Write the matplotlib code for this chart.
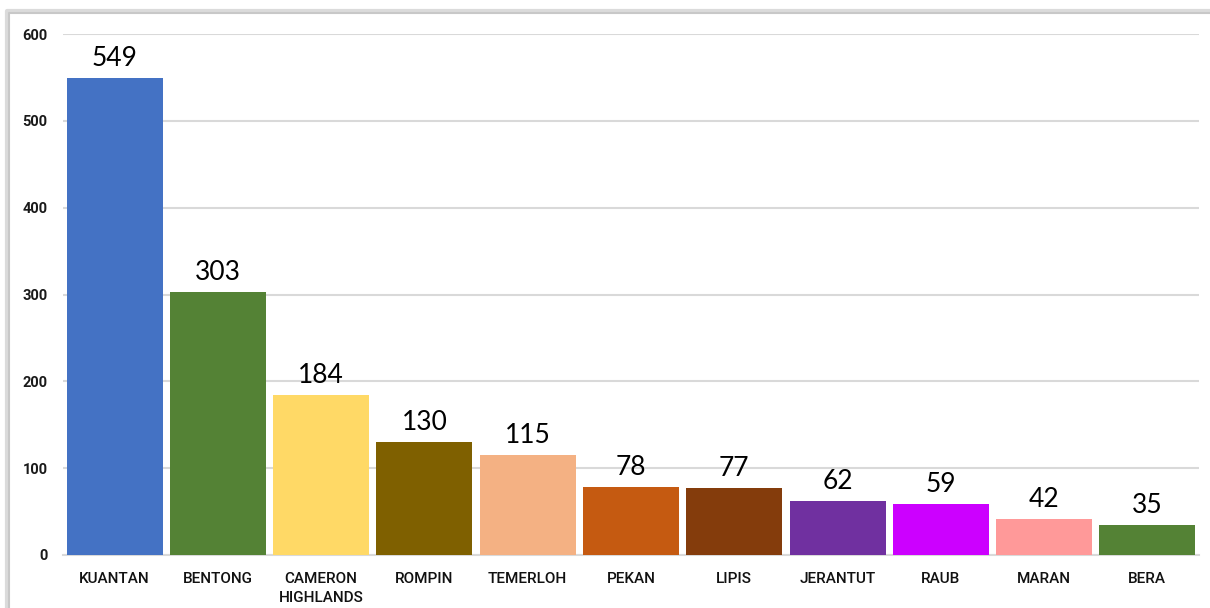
import matplotlib
matplotlib.use("Agg")
import matplotlib.pyplot as plt
import matplotlib.patheffects as pe
from matplotlib.lines import Line2D

# districts and counts
districts = ["KUANTAN", "BENTONG", "CAMERON\nHIGHLANDS", "ROMPIN", "TEMERLOH",
             "PEKAN", "LIPIS", "JERANTUT", "RAUB", "MARAN", "BERA"]
counts = [549, 303, 184, 130, 115, 78, 77, 62, 59, 42, 35]
colors = ["#4472C4", "#548235", "#FFD966", "#7F6000", "#F4B183",
          "#C55A11", "#843C0C", "#7030A0", "#CC00FF", "#FF9999", "#548235"]
yticks = [0, 100, 200, 300, 400, 500, 600]

fig = plt.figure(figsize=(12.1, 6.08), dpi=100)
fig.patch.set_facecolor("white")

# outer frame (top and left edge) with a soft shadow
fx, fy = 9 / 1210, 1 - 13 / 608
frame = Line2D([fx, fx, 1.0], [0.0, fy, fy], transform=fig.transFigure,
               color="#C8C8C8", linewidth=1.5, zorder=0,
               path_effects=[pe.SimpleLineShadow(offset=(-1.5, 1.5), shadow_color="#B8B8B8",
                                                 alpha=0.5, linewidth=3),
                             pe.Normal()])
fig.lines.append(frame)

ax = fig.add_axes([63 / 1210, 1 - 555 / 608, (1199 - 63) / 1210, (555 - 34) / 608])
ax.patch.set_alpha(0)
x = range(len(districts))
bars = ax.bar(x, counts, width=0.93, color=colors, zorder=3)

for xi, v in zip(x, counts):
    ax.text(xi, v + 8, str(v), ha="center", va="bottom",
            fontsize=19, family="Lato", color="black", zorder=4)

ax.set_xlim(-0.5, 10.5)
ax.set_ylim(0, 600)
ax.set_yticks(yticks)
ax.set_yticklabels([str(t) for t in yticks], fontsize=10.5, fontweight="bold",
                   family="Roboto", color="#1a1a1a")
ax.set_xticks(list(x))
ax.set_xticklabels(districts, fontsize=11, family="Roboto", fontweight="medium",
                   color="#111111", linespacing=1.45)
ax.tick_params(axis="both", length=0)
ax.tick_params(axis="y", pad=11)
ax.tick_params(axis="x", pad=12)

ax.grid(axis="y", color="#D9D9D9", linewidth=1.5, zorder=0)
for s in ["top", "right", "left"]:
    ax.spines[s].set_visible(False)
ax.spines["bottom"].set_color("#D9D9D9")
ax.spines["bottom"].set_linewidth(1.5)

fig.savefig("out.png", dpi=100)
